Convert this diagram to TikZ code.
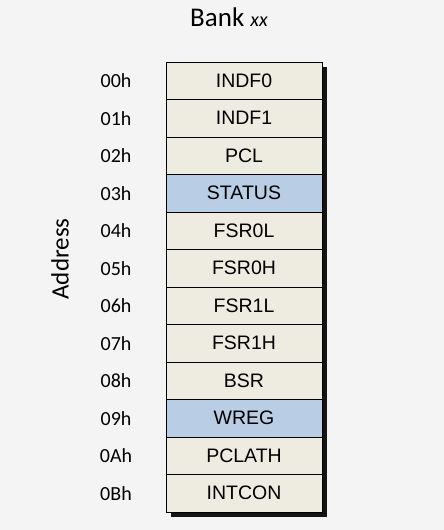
\documentclass[tikz,border=0pt]{standalone}
\usepackage{fontspec}
\setmainfont{Carlito}
\newfontfamily\arialf{Liberation Sans}
\usetikzlibrary{shadows}
\definecolor{bgc}{HTML}{F4F4F4}
\definecolor{beige}{HTML}{EEECE1}
\definecolor{bluec}{HTML}{B9CDE5}
\tikzset{
  regbox/.style={draw=black, line width=0.9pt, fill=beige, rectangle,
    minimum width=156pt, minimum height=37.5pt, inner sep=0pt,
    font=\arialf\fontsize{19.5}{22}\selectfont,
    drop shadow={shadow xshift=4.5pt, shadow yshift=-4.5pt, opacity=1, fill=black!92}},
  hl/.style={fill=bluec},
  addr/.style={font=\fontsize{20}{22}\selectfont, inner sep=0pt}
}
\begin{document}
\begin{tikzpicture}[x=1pt,y=-1pt]
\fill[bgc] (0,0) rectangle (444,530);
\useasboundingbox (0,0) rectangle (444,530);
\node[anchor=base, inner sep=0pt] (title) at (229,27) {\fontsize{27}{30}\selectfont Bank \fontsize{20}{22}\selectfont\itshape xx};
\node[rotate=90, inner sep=0pt, font=\fontsize{25}{28}\selectfont] (addrlabel) at (60,259) {Address};
\foreach \i/\lab/\ad/\st in {0/INDF0/00h/, 1/INDF1/01h/, 2/PCL/02h/, 3/STATUS/03h/hl, 4/FSR0L/04h/, 5/FSR0H/05h/, 6/FSR1L/06h/, 7/FSR1H/07h/, 8/BSR/08h/, 9/WREG/09h/hl, 10/PCLATH/0Ah/, 11/INTCON/0Bh/} {
  \node[regbox, \st] (r\i) at (244, {62+37.5*(\i+0.5)}) {\lab};
  \node[addr] (a\i) at (116, {62+37.5*(\i+0.5)}) {\ad};
}
\end{tikzpicture}
\end{document}
